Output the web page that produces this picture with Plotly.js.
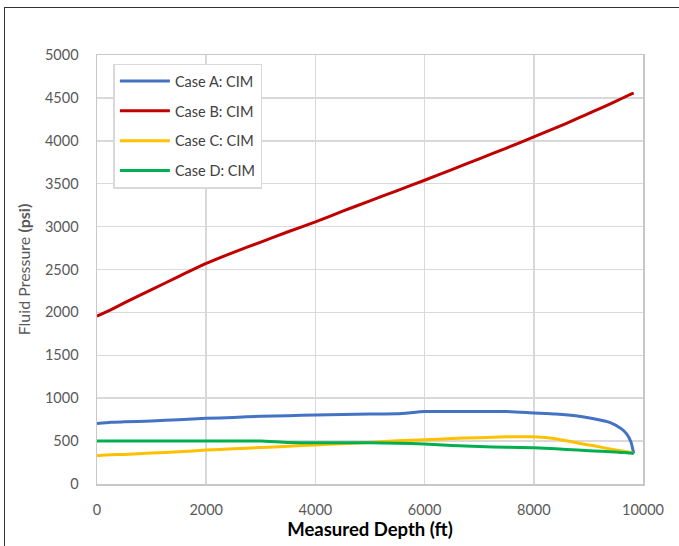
<!DOCTYPE html>
<html>
<head>
<meta charset="utf-8">
<script src="https://cdn.plot.ly/plotly-3.0.1.min.js"></script>
<style>
html,body{margin:0;padding:0;background:#fff;overflow:hidden;}
#wrap{position:relative;width:679px;height:546px;}
#chart{width:679px;height:546px;}
#frame{position:absolute;left:4px;top:7px;width:700px;height:600px;border:1.5px solid #333;pointer-events:none;}
</style>
</head>
<body>
<div id="wrap"><div id="chart"></div><div id="frame"></div></div>
<script>
const depth = [0, 250, 500, 1000, 1500, 2000, 2500, 3000, 3500, 4000, 4500, 5000, 5500, 6000, 6500, 7000, 7500, 8000, 8400, 8800, 9100, 9400, 9600, 9700, 9780, 9830];
const caseA = [705, 720, 725, 735, 750, 765, 775, 790, 795, 805, 810, 815, 818, 845, 845, 845, 845, 828, 815, 792, 760, 715, 645, 585, 490, 355];
const caseB = [1955, 2030, 2110, 2265, 2420, 2570, 2700, 2820, 2940, 3055, 3180, 3300, 3420, 3540, 3665, 3790, 3915, 4045, 4150, 4260, 4345, 4430, 4490, 4520, 4545, 4555];
const caseC = [330, 340, 345, 360, 375, 395, 410, 425, 440, 455, 470, 485, 505, 515, 530, 540, 550, 550, 528, 478, 445, 408, 387, 376, 365, 355];
const caseD = [500, 500, 500, 500, 500, 500, 500, 500, 485, 480, 480, 480, 475, 467, 450, 437, 428, 422, 410, 396, 386, 376, 368, 364, 360, 355];
const names = ['Case A: CIM', 'Case B: CIM', 'Case C: CIM', 'Case D: CIM'];
const colors = ['#4472C4', '#C00000', '#FFC000', '#00B050'];
const series = [caseA, caseB, caseC, caseD];

const traces = series.map((ys, i) => ({
  x: depth, y: ys, type: 'scatter', mode: 'lines', name: names[i],
  legendgroup: 'g' + i,
  line: {color: colors[i], width: 3, shape: 'spline', smoothing: 0.5}
}));

const font = 'Lato, "Open Sans", sans-serif';
const layout = {
  width: 679, height: 546,
  margin: {l: 97, r: 36, t: 55, b: 62},
  paper_bgcolor: '#fff', plot_bgcolor: '#fff',
  font: {family: font, size: 14, color: '#595959'},
  xaxis: {
    range: [0, 10000], dtick: 2000, tick0: 0, tickformat: 'd',
    showgrid: true, gridcolor: '#d9d9d9', gridwidth: 1.5,
    zeroline: false, showline: true, linecolor: '#c8c8c8', linewidth: 1.5, mirror: true,
    ticks: '', ticklen: 0, ticklabelstandoff: 12,
    tickfont: {family: font, size: 14.5, color: '#595959'},
    title: {text: 'Measured Depth (ft)', font: {family: font, size: 18.5, color: '#000', weight: 'bold'}, standoff: 4}
  },
  yaxis: {
    range: [0, 5000], dtick: 500, tick0: 0, tickformat: 'd',
    showgrid: true, gridcolor: '#d9d9d9', gridwidth: 1.5,
    zeroline: false, showline: true, linecolor: '#c8c8c8', linewidth: 1.5, mirror: true,
    ticks: '', ticklen: 0, ticklabelstandoff: 14,
    tickfont: {family: font, size: 14.5, color: '#595959'},
    title: {text: 'Fluid Pressure <b>(psi)</b>', font: {family: font, size: 16, color: '#595959'}, standoff: 10}
  },
  showlegend: true,
  legend: {
    x: 0.03, y: 0.98, xanchor: 'left', yanchor: 'top',
    bgcolor: '#fff', bordercolor: '#d9d9d9', borderwidth: 1.5,
    font: {family: font, size: 14.5, color: '#404040'},
    traceorder: 'grouped', tracegroupgap: 8,
    itemwidth: 50
  }
};
Plotly.newPlot('chart', traces, layout, {displayModeBar: false, staticPlot: true});
</script>
</body>
</html>
